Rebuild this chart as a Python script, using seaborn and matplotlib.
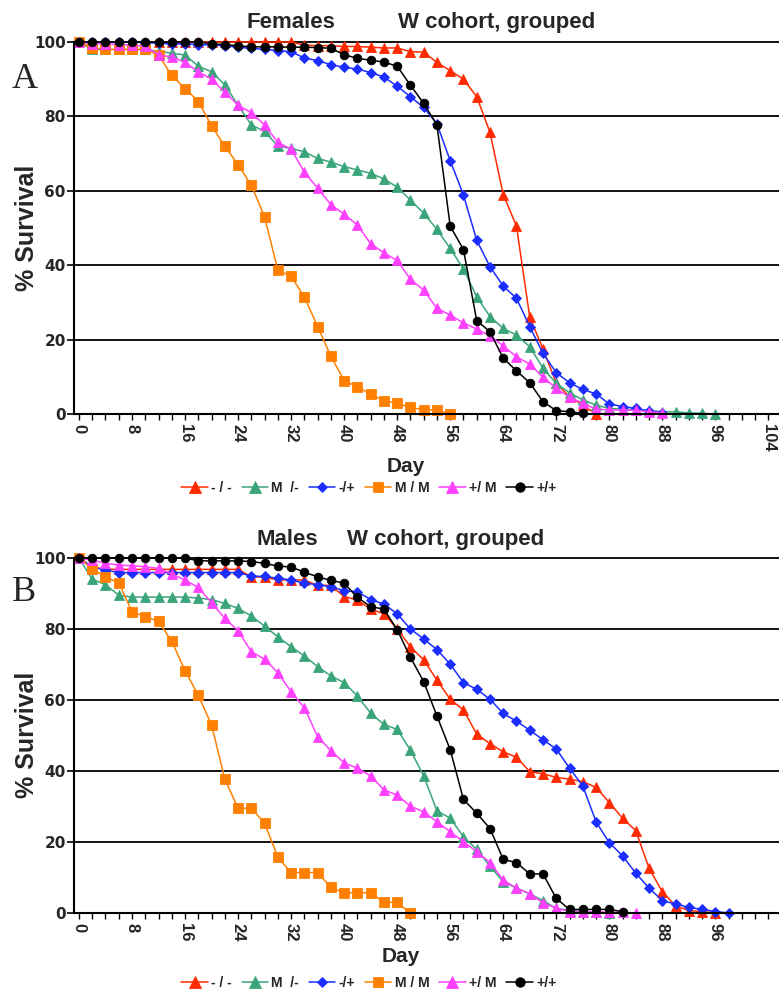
import numpy as np
import pandas as pd
import matplotlib
matplotlib.use("Agg")
import matplotlib.pyplot as plt
import seaborn as sns
from matplotlib.ticker import MultipleLocator

sns.set_style("white")
plt.rcParams['font.family'] = ['Liberation Sans', 'DejaVu Sans']

# ---------------- data ----------------
DAYS = np.arange(0, 100, 2)           # sampling days (every 2 days)
GENOTYPES = ["- / -", "M  /-", "-/+", "M / M", "+/ M", "+/+"]
X_TICKS = [0, 8, 16, 24, 32, 40, 48, 56, 64, 72, 80, 88, 96, 104]
Y_TICKS = [0, 20, 40, 60, 80, 100]

# Females (panel A)
F_RED = [100, 100, 100, 100, 100, 100, 100, 100, 100, 100, 100, 100, 100, 100, 100, 100, 100,
         99.2, 99.0, 99.0, 98.8, 98.8, 98.6, 98.4, 98.4, 97.4, 97.3, 94.5, 92.3, 90.0, 85.3,
         75.7, 59.0, 50.5, 26.0, 17.5, 8.3, 4.6, 2.4, 0.0]
F_GREEN = [100, 98, 98, 98, 98, 98, 97.5, 97, 96.5, 93.5, 92, 88.5, 83, 77.7, 76, 72, 71.4,
           70.5, 68.7, 67.7, 66.5, 65.6, 64.7, 63.2, 61, 57.5, 54, 49.6, 44.5, 39, 31.5, 26.2,
           23, 21.2, 18.1, 12.3, 8.2, 5.7, 3.8, 2.4, 1.5, 1.3, 1.1, 1.0, 0.6, 0.6, 0.3, 0.2, 0]
F_BLUE = [100, 100, 100, 100, 100, 99.8, 99.7, 99.5, 99.5, 99.3, 99.2, 99.0, 98.6, 98.3, 98.0,
          97.7, 97.4, 95.7, 95.0, 93.9, 93.2, 92.7, 91.8, 90.6, 88.1, 85.3, 82.4, 78.0, 68.1,
          58.9, 46.7, 39.6, 34.4, 31.1, 23.5, 16.3, 11.1, 8.4, 6.6, 5.4, 2.7, 2.0, 1.5, 0.8, 0.4]
F_ORANGE = [100, 98.5, 98, 98, 98, 98, 96.5, 91, 87.5, 84, 77.5, 72, 67, 61.5, 53, 38.7, 37,
            31.5, 23.5, 15.5, 9, 7.3, 5.3, 3.6, 2.9, 1.8, 1.1, 1.1, 0]
F_MAGENTA = [100, 99.5, 99.5, 99.3, 99.2, 98.8, 96.5, 96, 94.5, 92, 90, 86.5, 83, 81, 77.7, 73,
             71.2, 65, 60.7, 56.3, 53.7, 50.8, 45.8, 43.3, 41.3, 36.2, 33.3, 28.4, 26.6, 24.5,
             22.8, 21, 18.3, 15.4, 13.4, 9.9, 6.9, 4.5, 2.9, 1.3, 1.1, 1, 1, 0.6, 0.3]
F_BLACK = [100, 100, 100, 100, 100, 100, 100, 100, 100, 100, 99.5, 99.3, 99.0, 98.7, 98.7, 98.7,
           98.6, 98.6, 98.5, 98.3, 96.6, 95.6, 95.1, 94.6, 93.5, 88.4, 83.5, 77.7, 50.5, 44.2,
           25.1, 22.1, 15.0, 11.6, 8.4, 3.3, 0.9, 0.6, 0.2]

# Males (panel B)
M_RED = [100, 97.5, 96.8, 96.8, 96.8, 96.8, 96.8, 96.8, 96.8, 96.8, 96.8, 96.8, 96.8,
         94.7, 94.6, 93.8, 93.8, 93.8, 92.3, 92.3, 89.1, 88.2, 85.6, 84.3, 80, 75, 71.3, 65.6,
         60.2, 57.2, 50.4, 47.7, 45.4, 43.9, 39.8, 39.2, 38.2, 37.7, 37, 35.4, 31.1, 26.7, 23.2,
         12.6, 6, 2, 0.7, 0.4, 0]
M_GREEN = [100, 94, 92.5, 89.5, 89, 89, 89, 89, 89, 88.7, 88.3, 87.2, 85.8, 83.7, 80.8, 77.8,
           75, 72.4, 69.4, 66.8, 64.9, 61.1, 56.3, 53.1, 51.7, 45.9, 38.6, 28.8, 26.7, 21.5,
           17.9, 13.2, 8.8, 7, 5.4, 3.5, 1.3, 0.7, 0.4, 0.2, 0]
M_BLUE = [100, 97.5, 96.6, 95.9, 95.9, 95.9, 95.9, 95.9, 95.9, 95.9, 95.9, 95.9, 95.9,
          94.9, 94.8, 94.3, 93.8, 92.9, 92.5, 91.9, 90.8, 90.5, 88.3, 87, 84.3, 80, 77.2, 74.2,
          70.1, 64.9, 63, 60.2, 56.2, 54, 51.5, 48.8, 46.2, 40.8, 35.8, 25.7, 19.8, 16.1, 11.2,
          7, 3.5, 2.5, 1.6, 1, 0.4, 0]
M_ORANGE = [100, 97, 94.6, 93, 84.9, 83.4, 82.2, 76.5, 68.3, 61.3, 53, 37.7, 29.5, 29.5, 25.3,
            15.7, 11.4, 11.4, 11.4, 7.2, 5.7, 5.7, 5.7, 3, 3, 0]
M_MAGENTA = [100, 99.4, 98.5, 98, 97.8, 97.5, 97.1, 95.5, 93.8, 91.7, 87.4, 83, 79.5, 73.6,
             71.5, 67.7, 62.3, 57.8, 49.7, 45.7, 42.3, 40.8, 38.6, 34.7, 33.2, 30.1, 28.5, 25.7,
             22.9, 20.1, 17.3, 14.2, 9.3, 7, 5.4, 2.9, 1.3, 0.4, 0.3, 0.3, 0.2, 0.2, 0]
M_BLACK = [100, 100, 100, 100, 100, 100, 100, 100, 100, 99.2, 99.2, 99.2, 99.2, 99, 98.5, 97.7,
           97.5, 96, 94.7, 93.7, 92.9, 88.9, 86.3, 85.6, 79.8, 72, 65.2, 55.5, 46, 32, 28.1,
           23.8, 15.1, 14.2, 11, 11, 4.1, 1, 1, 1, 1, 0.4]

# ---------------- styles ----------------
COLORS = ["#FF2A00", "#3BA57A", "#1B2DFF", "#FF8000", "#FF40FF", "#000000"]
MARKERS = ["^", "^", "D", "s", "^", "o"]
MSIZES = [7.5, 7.5, 4.6, 6.8, 7.5, 6.2]

W, H = 779, 992
fig = plt.figure(figsize=(W / 100, H / 100), dpi=100)
ax_top = fig.add_axes([74 / W, 1 - 414 / H, 705 / W, 372 / H])
ax_bot = fig.add_axes([74 / W, 1 - 913 / H, 705 / W, 355 / H])


def draw_panel(ax, series, show_last_label):
    for name, vals, c, m, ms in zip(GENOTYPES, series, COLORS, MARKERS, MSIZES):
        df = pd.DataFrame({"Day": DAYS[:len(vals)], "Survival": vals})
        sns.lineplot(data=df, x="Day", y="Survival", ax=ax, color=c, marker=m,
                     markersize=ms, markeredgecolor=c, markeredgewidth=0.6,
                     linewidth=1.1, label=name, legend=False, clip_on=False,
                     errorbar=None, sort=False)
    if ax.get_legend() is not None:
        ax.get_legend().remove()
    ax.set_xlim(-0.75, 105.6)
    ax.set_ylim(0, 100)
    ax.set_xlabel("")
    ax.set_ylabel("")
    labels = [str(t) for t in X_TICKS]
    if not show_last_label:
        labels[-1] = ""
    ax.set_xticks(X_TICKS)
    ax.set_xticklabels(labels, rotation=-90, fontsize=12, fontweight="bold",
                       family=["Liberation Sans", "DejaVu Sans"])
    ax.xaxis.set_minor_locator(MultipleLocator(2))
    ax.set_yticks(Y_TICKS)
    ax.set_yticklabels([str(t) for t in Y_TICKS], fontsize=11, fontweight="bold",
                       family=["DejaVu Sans"])
    ax.tick_params(axis="x", which="both", direction="out", length=4, width=1.0,
                   color="black", bottom=True, pad=3)
    ax.tick_params(axis="y", which="major", direction="out", length=5, width=1.2,
                   color="black", left=True, pad=1)
    ax.yaxis.grid(True, color="black", linewidth=1.3)
    ax.xaxis.grid(False)
    for gl in ax.get_ygridlines():
        gl.set_clip_on(False)
    ax.set_axisbelow(True)
    for s in ["top", "right"]:
        ax.spines[s].set_visible(False)
    for s in ["left", "bottom"]:
        ax.spines[s].set_color("black")
        ax.spines[s].set_linewidth(1.5)
    return ax.get_legend_handles_labels()


handles, labels = draw_panel(ax_top, [F_RED, F_GREEN, F_BLUE, F_ORANGE, F_MAGENTA, F_BLACK], True)
handles_b, labels_b = draw_panel(ax_bot, [M_RED, M_GREEN, M_BLUE, M_ORANGE, M_MAGENTA, M_BLACK], False)


def ftext(x, y, s, **kw):
    fig.text(x / W, 1 - y / H, s, **kw)


# titles
ftext(291, 28, "Females", ha="center", va="baseline", fontsize=16, fontweight="bold")
ftext(497, 28, "W cohort, grouped", ha="center", va="baseline", fontsize=16, fontweight="bold")
ftext(287, 545, "Males", ha="center", va="baseline", fontsize=16, fontweight="bold")
ftext(446, 545, "W cohort, grouped", ha="center", va="baseline", fontsize=16, fontweight="bold")

# panel letters
ftext(25, 88, "A", ha="center", va="baseline", fontsize=26, family=["Liberation Serif"])
ftext(24, 601, "B", ha="center", va="baseline", fontsize=26, family=["Liberation Serif"])

# axis labels
ftext(27, 228, "% Survival", rotation=90, ha="center", va="center", fontsize=18, fontweight="bold")
ftext(27, 735, "% Survival", rotation=90, ha="center", va="center", fontsize=18, fontweight="bold")
ftext(406, 472, "Day", ha="center", va="baseline", fontsize=15, fontweight="bold")
ftext(401, 962, "Day", ha="center", va="baseline", fontsize=15, fontweight="bold")

# legends
for hs, ls, yc in [(handles, labels, 488), (handles_b, labels_b, 983)]:
    fig.legend(hs, ls, loc="center", bbox_to_anchor=(369 / W, 1 - yc / H), ncol=6,
               frameon=False, prop={"weight": "bold", "size": 10}, handlelength=1.9,
               handletextpad=0.25, columnspacing=0.7, borderaxespad=0, borderpad=0,
               numpoints=1, markerscale=1.1)

fig.savefig("out.png", dpi=100)
